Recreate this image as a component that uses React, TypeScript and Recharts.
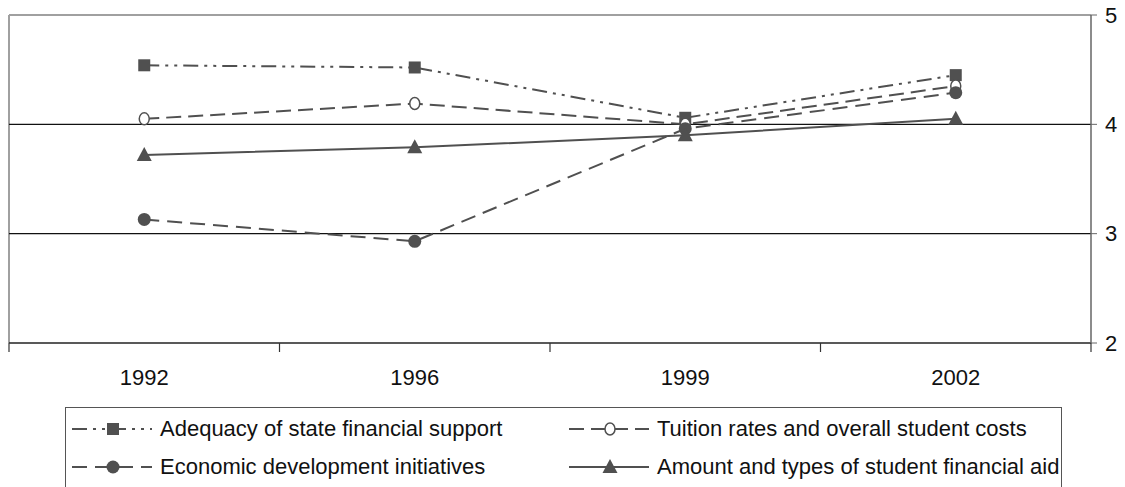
import React from "react";
import { LineChart, Line, XAxis, YAxis, ReferenceLine } from "recharts";

const years = ["1992", "1996", "1999", "2002"];
const adequacy = [4.54, 4.52, 4.06, 4.45];
const tuition = [4.05, 4.19, 4.0, 4.35];
const economic = [3.13, 2.93, 3.96, 4.29];
const aid = [3.72, 3.79, 3.9, 4.05];
const yTicks = [2, 3, 4, 5];
const bounds = [0, 1, 2, 3, 4];

const FONT = "'Liberation Sans', Arial, sans-serif";
const GRAY = "#505050";

// each year sits in the middle of its slot, slot edges carry the tick marks
const data = years.map((year, i) => ({
  pos: i + 0.5,
  year,
  adequacy: adequacy[i],
  tuition: tuition[i],
  economic: economic[i],
  aid: aid[i],
}));
const xTicks = [...bounds, ...data.map((d) => d.pos)].sort((a, b) => a - b);

type Shape = "square" | "open" | "circle" | "triangle";

const series: { key: string; name: string; dash?: string; shape: Shape }[] = [
  { key: "adequacy", name: "Adequacy of state financial support", dash: "15 6 3 6 3 6", shape: "square" },
  { key: "tuition", name: "Tuition rates and overall student costs", dash: "15 7", shape: "open" },
  { key: "economic", name: "Economic development initiatives", dash: "15 8", shape: "circle" },
  { key: "aid", name: "Amount and types of student financial aid", shape: "triangle" },
];

function marker(shape: Shape, cx: number, cy: number, key?: string) {
  if (shape === "square")
    return <rect key={key} x={cx - 6} y={cy - 6} width={12} height={12} fill={GRAY} />;
  if (shape === "open")
    return <ellipse key={key} cx={cx} cy={cy} rx={5} ry={6} fill="#fff" stroke={GRAY} strokeWidth={1.5} />;
  if (shape === "circle") return <circle key={key} cx={cx} cy={cy} r={6.5} fill={GRAY} />;
  return (
    <polygon
      key={key}
      points={`${cx},${cy - 8} ${cx - 7.5},${cy + 6} ${cx + 7.5},${cy + 6}`}
      fill={GRAY}
    />
  );
}

function XTick(props: any) {
  const { x, y, payload } = props;
  const v = payload.value as number;
  if (Number.isInteger(v)) {
    return <line x1={x} y1={y} x2={x} y2={y + 9} stroke="#333" strokeWidth={1.2} />;
  }
  const row = data.find((d) => d.pos === v);
  return (
    <text x={x} y={y + 42} textAnchor="middle" fill="#111" fontSize={22} fontFamily={FONT}>
      {row ? row.year : ""}
    </text>
  );
}

function LegendItem({ s }: { s: (typeof series)[number] }) {
  return (
    <div style={{ display: "flex", alignItems: "center", height: 38 }}>
      <svg width={80} height={20} style={{ marginRight: 8 }}>
        <line x1={0} y1={10} x2={80} y2={10} stroke={GRAY} strokeWidth={2} strokeDasharray={s.dash} />
        {marker(s.shape, 41, 10)}
      </svg>
      <span>{s.name}</span>
    </div>
  );
}

export default function App() {
  return (
    <div style={{ position: "absolute", left: 0, top: 0, width: 1125, height: 487, background: "#fff", fontFamily: FONT }}>
      <LineChart width={1125} height={487} data={data} margin={{ top: 15, right: 0, left: 9, bottom: 84 }}>
        <XAxis
          type="number"
          dataKey="pos"
          domain={[0, 4]}
          ticks={xTicks}
          interval={0}
          height={60}
          axisLine={{ stroke: "#222", strokeWidth: 1.6 }}
          tickLine={false}
          tickSize={0}
          tickMargin={0}
          tick={<XTick />}
        />
        <YAxis
          orientation="right"
          domain={[2, 5]}
          ticks={yTicks}
          width={34}
          axisLine={{ stroke: "#666", strokeWidth: 1.5 }}
          tickLine={{ stroke: "#666" }}
          tickSize={6}
          tickMargin={8}
          tick={{ fill: "#111", fontSize: 22, fontFamily: FONT }}
        />
        <ReferenceLine y={5} stroke="#a0a0a0" strokeWidth={2} />
        <ReferenceLine x={0} stroke="#a0a0a0" strokeWidth={2} />
        <ReferenceLine y={4} stroke="#111" strokeWidth={1.3} />
        <ReferenceLine y={3} stroke="#111" strokeWidth={1.3} />
        {series.map((s) => (
          <Line
            key={s.key}
            type="linear"
            dataKey={s.key}
            name={s.name}
            stroke={GRAY}
            strokeWidth={2}
            strokeDasharray={s.dash}
            isAnimationActive={false}
            dot={(p: any) => marker(s.shape, p.cx, p.cy, `${s.key}-${p.index}`)}
            activeDot={false}
          />
        ))}
      </LineChart>
      <div
        style={{
          position: "absolute",
          left: 65,
          top: 407,
          width: 997,
          height: 95,
          boxSizing: "border-box",
          border: "1.5px solid #555",
          background: "#fff",
          paddingTop: 2,
          paddingLeft: 6,
          display: "grid",
          gridTemplateColumns: "497px 494px",
          gridAutoRows: "38px",
          alignContent: "start",
          fontSize: 22,
          color: "#111",
        }}
      >
        {series.map((s) => (
          <LegendItem key={s.key} s={s} />
        ))}
      </div>
    </div>
  );
}
